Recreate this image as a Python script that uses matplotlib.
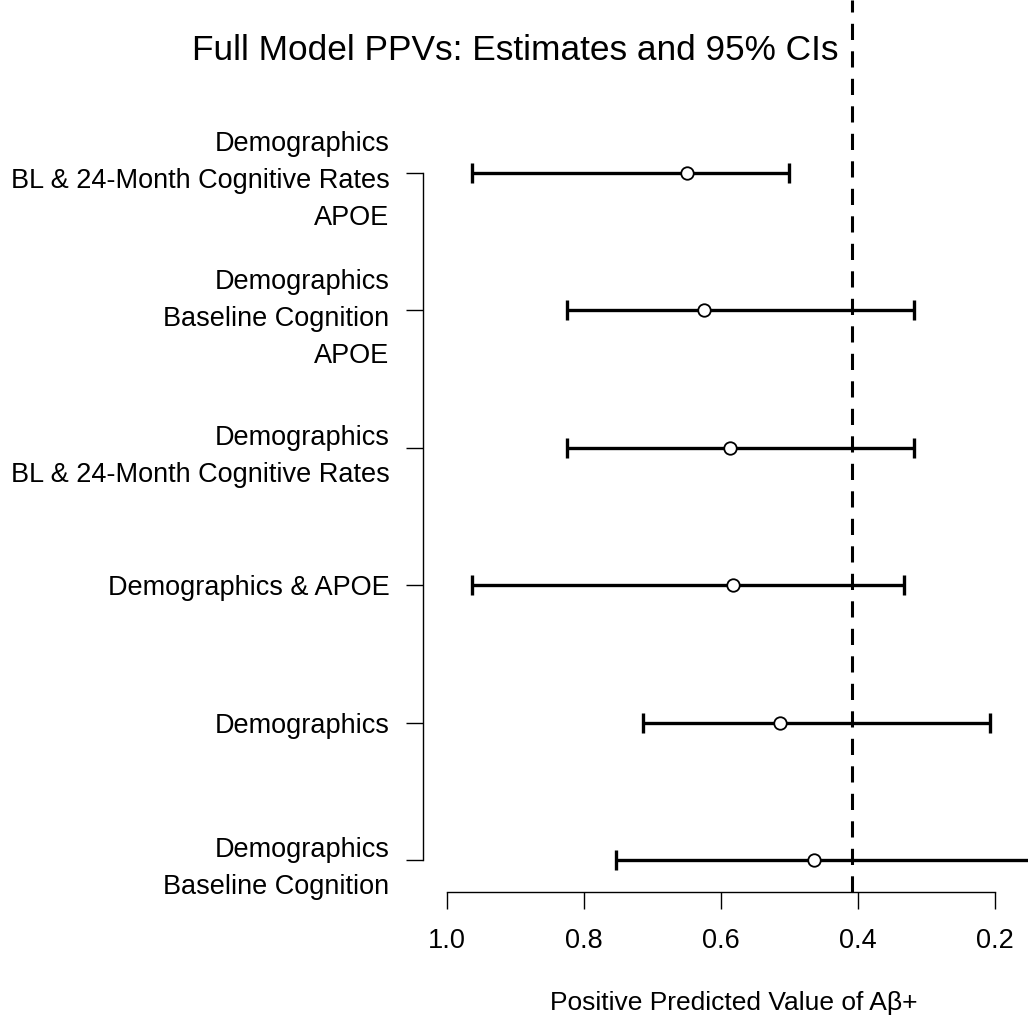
import matplotlib
matplotlib.use("Agg")
import matplotlib.pyplot as plt
import numpy as np

plt.rcParams["font.family"] = ["Liberation Sans", "DejaVu Sans"]

# models, top to bottom
labels = [
    "Demographics\nBL & 24-Month Cognitive Rates\nAPOE",
    "Demographics\nBaseline Cognition\nAPOE",
    "Demographics\nBL & 24-Month Cognitive Rates",
    "Demographics & APOE",
    "Demographics",
    "Demographics\nBaseline Cognition",
]
estimate = [0.650, 0.624, 0.587, 0.583, 0.514, 0.464]
ci_low = [0.500, 0.318, 0.318, 0.333, 0.207, 0.100]
ci_high = [0.963, 0.825, 0.825, 0.963, 0.714, 0.753]
ref_line = 0.408
xticks = [1.0, 0.8, 0.6, 0.4, 0.2]

W, H = 1028, 1018
fig = plt.figure(figsize=(W / 100, H / 100), dpi=100)
ax = fig.add_axes([423 / W, (H - 892) / H, (W - 423) / W, 892 / H])

ypos = np.arange(len(labels), 0, -1)
est = np.array(estimate)
lo = np.array(ci_low)
hi = np.array(ci_high)

ax.errorbar(est, ypos, xerr=[est - lo, hi - est], fmt="none", ecolor="black",
            elinewidth=2.4, capsize=7, capthick=2.4)
ax.plot(est, ypos, "o", mfc="white", mec="black", ms=9, mew=1.3, zorder=3)
ax.axvline(ref_line, color="black", lw=2.2, ls=(0, (5.3, 3.7)))

ax.set_xlim(1.0346, 0.1519)
ax.set_ylim(0.767, 7.259)

ax.spines["top"].set_visible(False)
ax.spines["right"].set_visible(False)
ax.spines["left"].set_bounds(1, len(labels))
ax.spines["bottom"].set_bounds(0.2, 1.0)
for s in ("left", "bottom"):
    ax.spines[s].set_linewidth(1.0)

ax.set_yticks(ypos)
ax.set_yticklabels(labels, fontsize=19.5, linespacing=1.55, ha="right")
ax.set_xticks(xticks)
ax.set_xticklabels([f"{t:.1f}" for t in xticks], fontsize=19.5)
ax.tick_params(axis="y", length=12.2, width=1.0, pad=12)
ax.tick_params(axis="x", length=12.2, width=1.0, pad=14)

fig.text(515.5 / W, 1 - 50 / H, "Full Model PPVs: Estimates and 95% CIs",
         ha="center", va="center", fontsize=25.4)
fig.text(734 / W, 1 - 1003 / H, "Positive Predicted Value of A\u03b2+",
         ha="center", va="center", fontsize=19)

fig.savefig("out.png", dpi=100)
